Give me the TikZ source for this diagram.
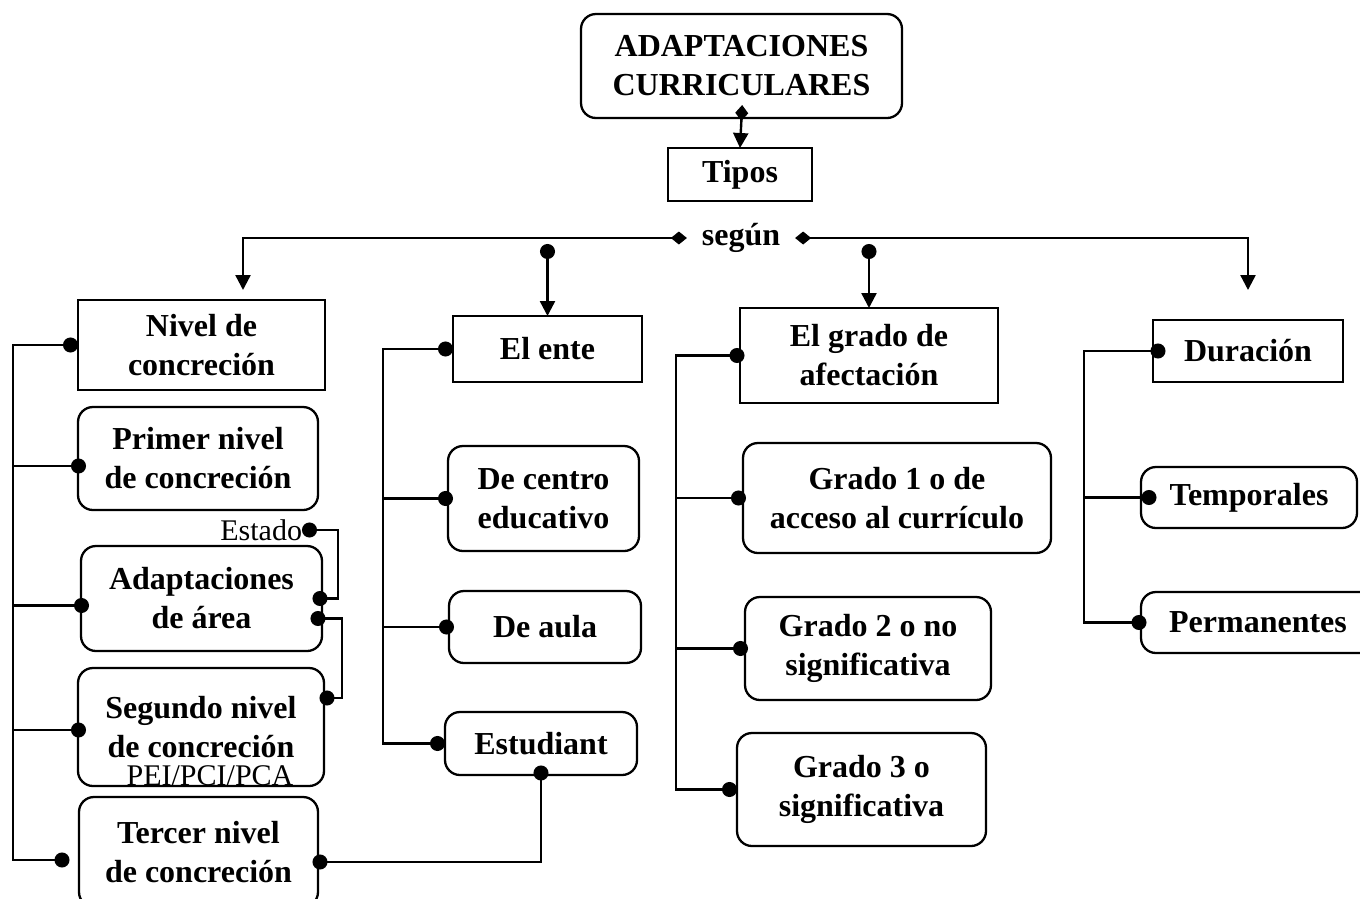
\documentclass[tikz,border=0pt]{standalone}
\usepackage{fontspec}
\setmainfont{Liberation Serif}
\usetikzlibrary{arrows.meta,positioning,calc}

\tikzset{
    base/.style={inner sep=0pt, outer sep=0pt, align=center, font=\fontsize{32}{39}\selectfont\bfseries},
    sqbox/.style={base, draw, line width=1.3pt},
    rbox/.style={base, draw, line width=2.3pt, rounded corners=15pt},
    note/.style={inner sep=0pt, outer sep=0pt, font=\fontsize{30}{34}\selectfont},
    link/.style={line width=2.4pt},
    dia2tri/.style={{Diamond[length=16pt,width=13pt]}-{Triangle[length=15pt,width=15pt]}},
    dot2tri/.style={{Circle[length=15pt]}-{Triangle[length=15pt,width=15pt]}},
    dot2dot/.style={{Circle[length=15pt]}-{Circle[length=15pt]}},
    dotend/.style={{Circle[length=15pt]}-}
}

\begin{document}
\begin{tikzpicture}[x=1pt, y=-1pt]
    \useasboundingbox (0,0) rectangle (1360,898);
    \clip (0,0) rectangle (1360,898);

    % Title and types
    \node[rbox, minimum width=321pt, minimum height=104pt] (top) at (741.5,66) {ADAPTACIONES\\CURRICULARES};
    \node[sqbox, minimum width=144pt, minimum height=53pt] (tipos) at (740,174.5) {Tipos};
    \node[base, inner xsep=15pt, inner ysep=4pt] (segun) at (741,238) {según};

    % Nivel de concrecion column
    \node[sqbox, minimum width=247pt, minimum height=90pt] (nivel) at (201.5,345) {Nivel de\\concreción};
    \node[rbox, minimum width=240pt, minimum height=103pt] (primer) at (198,458.5) {Primer nivel\\de concreción};
    \node[rbox, minimum width=241pt, minimum height=105pt] (adapt) at (201.5,598.5) {Adaptaciones\\de área};
    \node[rbox, minimum width=246pt, minimum height=118pt] (segundo) at (201,727) {Segundo nivel\\de concreción};
    \node[rbox, minimum width=239pt, minimum height=110pt] (tercer) at (198.5,852) {Tercer nivel\\de concreción};
    \node[note] (pei) at ($(segundo.south)+(9,-10)$) {PEI/PCI/PCA};
    \node[note, anchor=east] (estado) at (302,530) {Estado};

    % El ente column
    \node[sqbox, minimum width=189pt, minimum height=66pt] (ente) at (547.5,349) {El ente};
    \node[rbox, minimum width=191pt, minimum height=105pt] (centro) at (543.5,498.5) {De centro\\educativo};
    \node[rbox, minimum width=192pt, minimum height=72pt] (aula) at (545,627) {De aula};
    \node[rbox, minimum width=192pt, minimum height=63pt] (estud) at (541,743.5) {Estudiant};

    % Grado de afectacion column
    \node[sqbox, minimum width=258pt, minimum height=95pt] (grado) at (869,355.5) {El grado de\\afectación};
    \node[rbox, minimum width=308pt, minimum height=110pt] (g1) at (897,498) {Grado 1 o de\\acceso al currículo};
    \node[rbox, minimum width=246pt, minimum height=103pt] (g2) at (868,648.5) {Grado 2 o no\\significativa};
    \node[rbox, minimum width=249pt, minimum height=113pt] (g3) at (861.5,789.5) {Grado 3 o\\significativa};

    % Duracion column
    \node[sqbox, minimum width=190pt, minimum height=62pt] (dur) at (1248,351) {Duración};
    \node[rbox, minimum width=216pt, minimum height=61pt] (temp) at (1249,497.5) {Temporales};
    \node[rbox, minimum width=234pt, minimum height=61pt] (perm) at (1258,622.5) {Permanentes};

    % Top connectors
    \draw[link, dia2tri, shorten <=-13pt] (top.south) -- (tipos.north);
    \coordinate (nivtop) at (243,290);
    \coordinate (durtop) at ($(dur.north)+(0,-30)$);
    \draw[link, dia2tri] (segun.west) -| (nivtop);
    \draw[link, dia2tri] (segun.east) -| (durtop);
    \draw[link, dot2tri] ($(ente.north |- segun.center)+(0,6)$) -- (ente.north);
    \draw[link, dot2tri] ($(grado.north |- segun.center)+(0,6)$) -- (grado.north);

    % Spines
    \draw[link, dot2dot, shorten >=9.5pt] (nivel.west) -- ++(-65,0) coordinate (spA) |- ([yshift=-8pt]tercer.west);
    \foreach \n/\dy in {primer/-7.5, adapt/-7, segundo/-3}
        \draw[link, dotend, shorten <=-8pt] ([yshift=\dy pt]\n.west) -| (spA);

    \draw[link, dot2dot] (ente.west) -- ++(-70,0) coordinate (spB) |- (estud.west);
    \foreach \n in {centro, aula}
        \draw[link, dotend, shorten <=-5pt] (\n.west) -| (spB);

    \draw[link, dot2dot, shorten <=-4.5pt] (grado.west) -- ++(-64,0) coordinate (spC) |- (g3.west);
    \foreach \n in {g1, g2}
        \draw[link, dotend, shorten <=-3pt] (\n.west) -| (spC);

    \draw[link, dot2dot, shorten <=-12.5pt, shorten >=-5.5pt] (dur.west) -- ++(-69,0) coordinate (spD) |- (perm.west);
    \draw[link, dotend, shorten <=-15.5pt] (temp.west) -| (spD);

    % Side links
    \draw[link, dot2dot, shorten >=-9.5pt] (estado.east) -- ++(36,0) |- (adapt.east);
    \draw[link, dot2dot, shorten <=-11.5pt, shorten >=-4.5pt] ([yshift=-20pt]adapt.east) -- ++(20,0) |- ([yshift=29pt]segundo.east);
    \draw[link, dot2dot, shorten <=-5.5pt, shorten >=-9.5pt] ([yshift=-10pt]tercer.east) -| (estud.south);

\end{tikzpicture}
\end{document}
